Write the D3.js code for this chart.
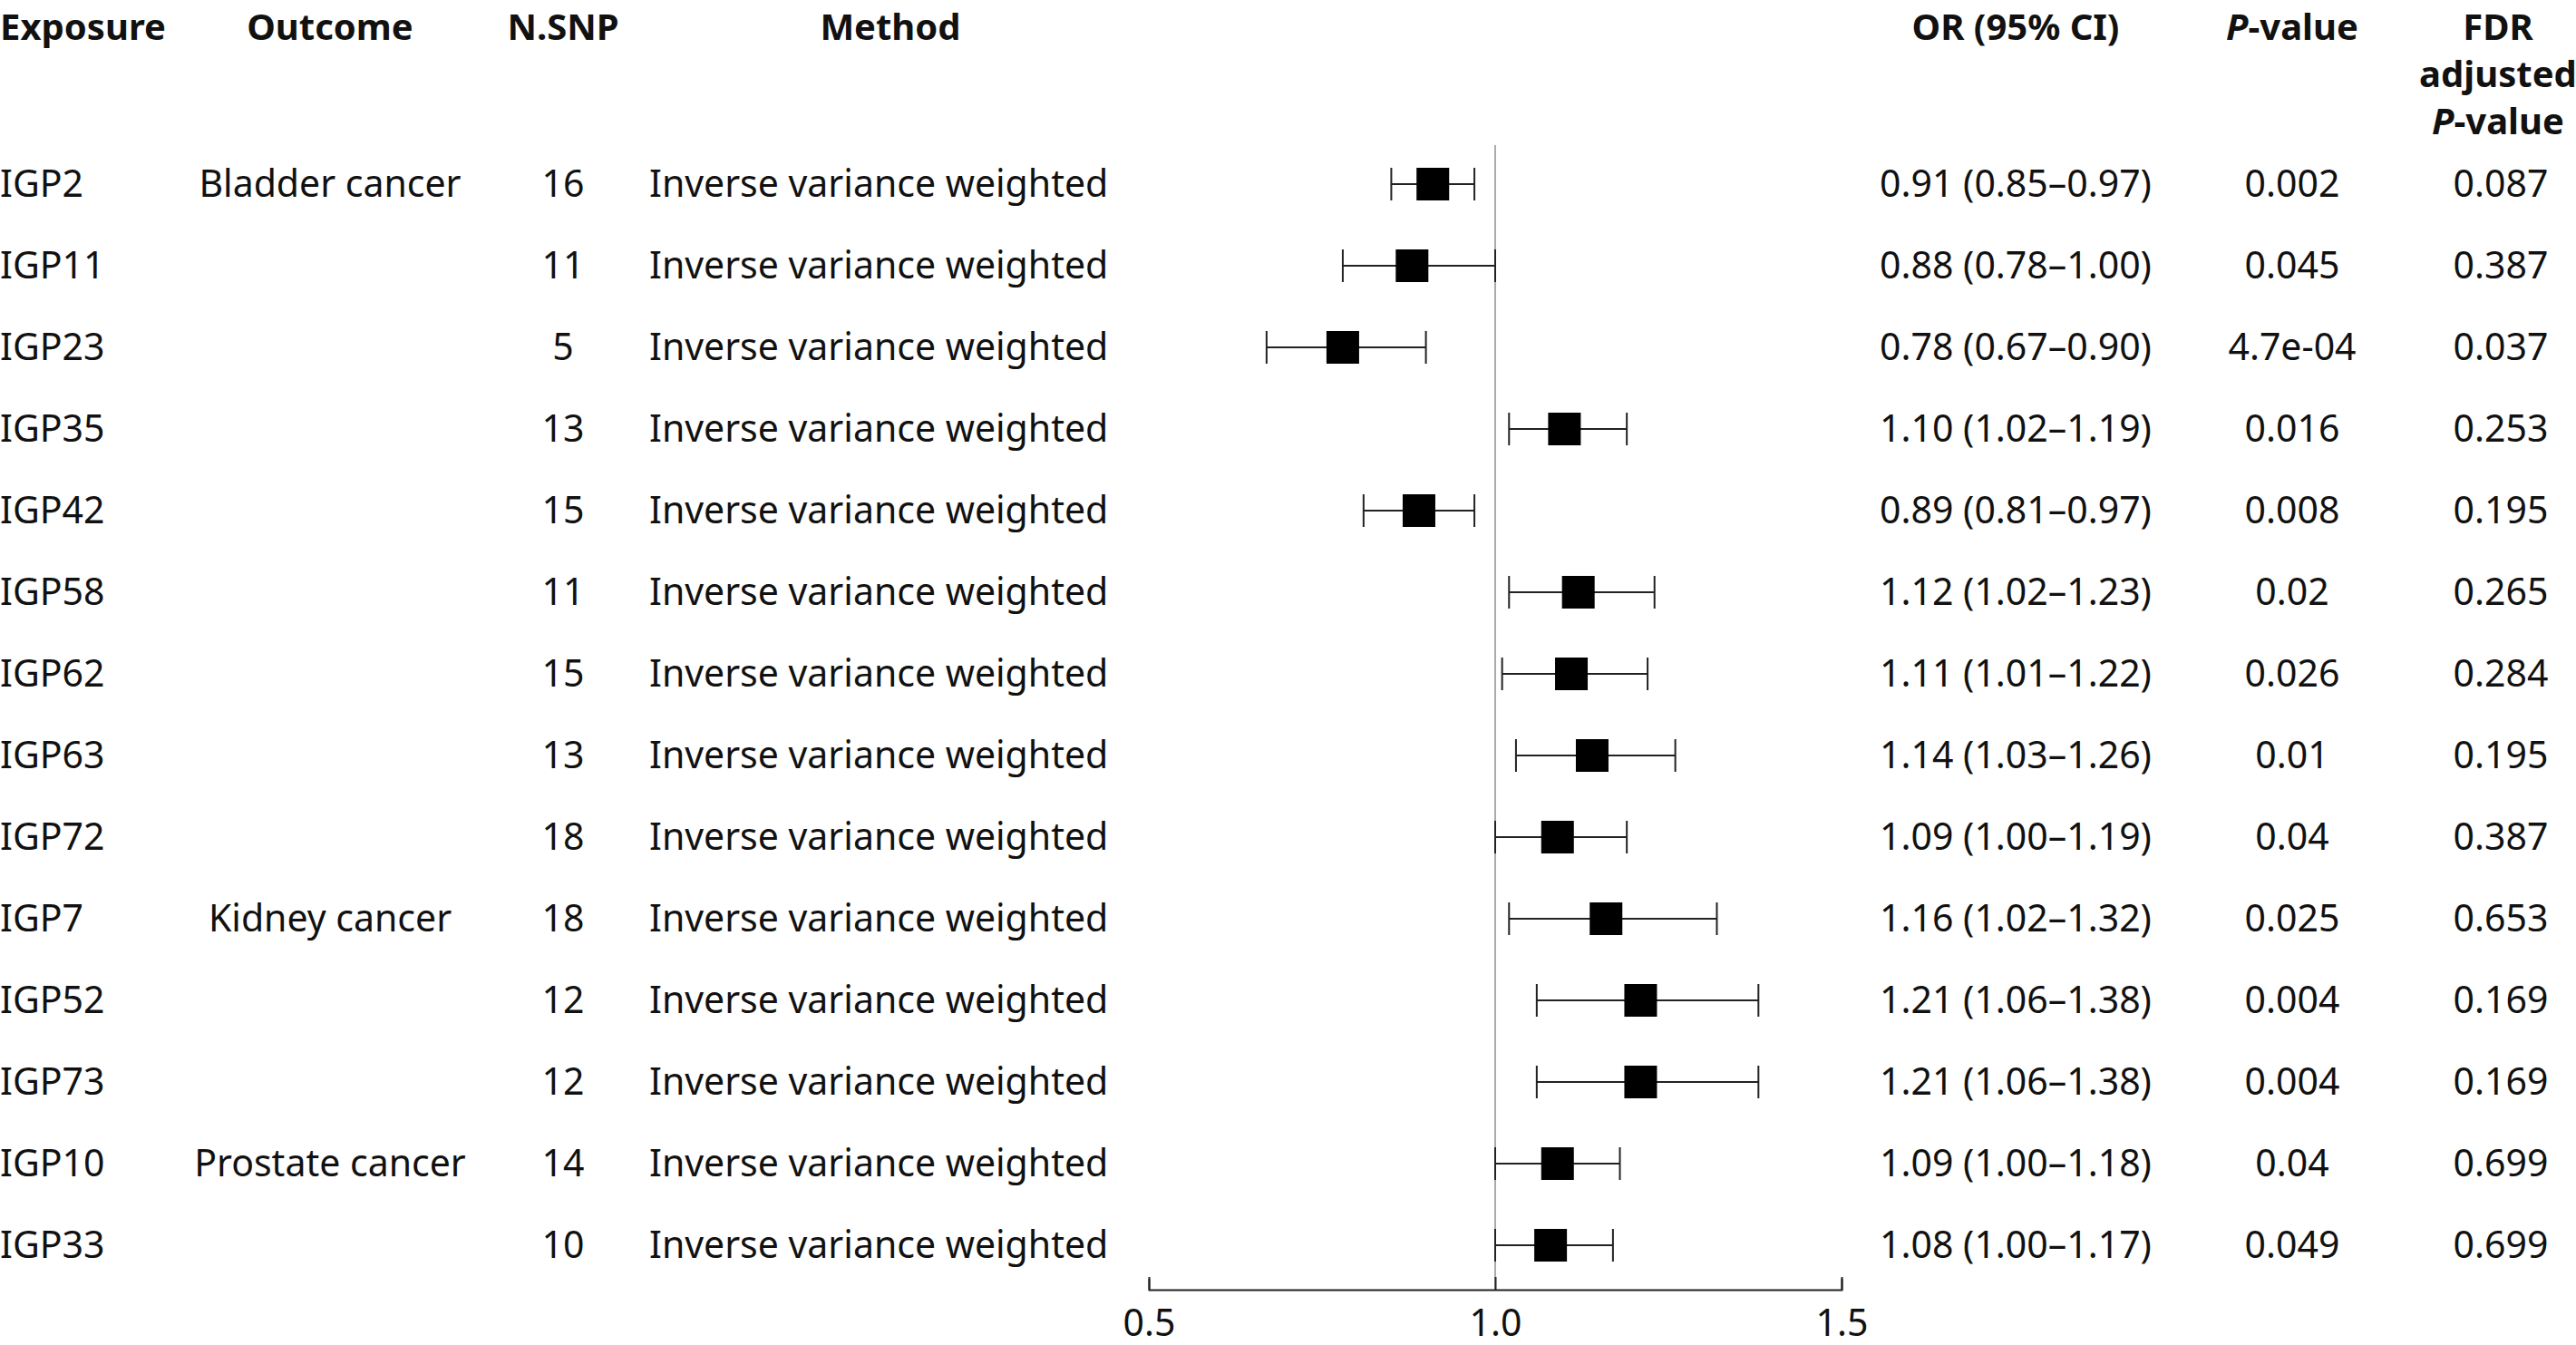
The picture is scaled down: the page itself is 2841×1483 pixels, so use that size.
<!DOCTYPE html>
<html>
<head>
<meta charset="utf-8">
<script src="https://cdn.jsdelivr.net/npm/d3@7"></script>
<style>
  body { margin: 0; background: #fff; }
  text { font-family: "Noto Sans", "Open Sans", sans-serif; fill: #111; }
</style>
</head>
<body>
<svg id="chart" width="2841" height="1483"></svg>
<script>
// data
var exposure = ["IGP2","IGP11","IGP23","IGP35","IGP42","IGP58","IGP62","IGP63","IGP72","IGP7","IGP52","IGP73","IGP10","IGP33"];
var outcome = ["Bladder cancer","","","","","","","","","Kidney cancer","","","Prostate cancer",""];
var nsnp = [16,11,5,13,15,11,15,13,18,18,12,12,14,10];
var method = "Inverse variance weighted";
var or = [0.91,0.88,0.78,1.10,0.89,1.12,1.11,1.14,1.09,1.16,1.21,1.21,1.09,1.08];
var lower = [0.85,0.78,0.67,1.02,0.81,1.02,1.01,1.03,1.00,1.02,1.06,1.06,1.00,1.00];
var upper = [0.97,1.00,0.90,1.19,0.97,1.23,1.22,1.26,1.19,1.32,1.38,1.38,1.18,1.17];
var pval = ["0.002","0.045","4.7e-04","0.016","0.008","0.02","0.026","0.01","0.04","0.025","0.004","0.004","0.04","0.049"];
var fdr = ["0.087","0.387","0.037","0.253","0.195","0.265","0.284","0.195","0.387","0.653","0.169","0.169","0.699","0.699"];
var xTicks = [0.5, 1.0, 1.5];

var svg = d3.select("#chart");
var fs = 41;

var x = d3.scaleLinear().domain([0.5, 1.5]).range([1267, 2031]);
var y = d3.scalePoint().domain(d3.range(exposure.length)).range([203, 1373]);

var col = { exp: 0, out: 364, snp: 621, meth: 716, or: 2223, p: 2528, fdr: 2758 };

// headers
var hdr = svg.append("g").attr("font-weight", "bold").attr("font-size", 40);
hdr.append("text").attr("x", col.exp).attr("y", 44).text("Exposure");
hdr.append("text").attr("x", col.out).attr("y", 44).attr("text-anchor", "middle").text("Outcome");
hdr.append("text").attr("x", col.snp).attr("y", 44).attr("text-anchor", "middle").text("N.SNP");
hdr.append("text").attr("x", 982).attr("y", 44).attr("text-anchor", "middle").text("Method");
hdr.append("text").attr("x", col.or).attr("y", 44).attr("text-anchor", "middle").text("OR (95% CI)");
var ph = hdr.append("text").attr("x", col.p).attr("y", 44).attr("text-anchor", "middle");
ph.append("tspan").attr("font-style", "italic").text("P");
ph.append("tspan").text("-value");
hdr.append("text").attr("x", 2755).attr("y", 44).attr("text-anchor", "middle").text("FDR");
hdr.append("text").attr("x", 2755).attr("y", 96).attr("text-anchor", "middle").text("adjusted");
var fh = hdr.append("text").attr("x", 2755).attr("y", 148).attr("text-anchor", "middle");
fh.append("tspan").attr("font-style", "italic").text("P");
fh.append("tspan").text("-value");

// reference line at 1
svg.append("line")
  .attr("x1", x(1)).attr("x2", x(1))
  .attr("y1", 160).attr("y2", 1422)
  .attr("stroke", "#aaa").attr("stroke-width", 2);

// axis
var axis = svg.append("g").attr("transform", "translate(0,1422)")
  .call(d3.axisBottom(x).tickValues(xTicks).tickFormat(d3.format(".1f")).tickSizeOuter(0).tickSize(-12));
axis.select(".domain").attr("stroke", "#222").attr("stroke-width", 2);
axis.selectAll(".tick line").attr("stroke", "#222").attr("stroke-width", 2).attr("y2", -14);
axis.selectAll(".tick text").attr("font-size", fs).attr("y", 22).attr("dy", "0.71em")
  .attr("font-family", "'Noto Sans', sans-serif").attr("fill", "#111");

// rows
var rows = svg.selectAll(".row").data(exposure).enter().append("g")
  .attr("class", "row")
  .attr("transform", function(d, i) { return "translate(0," + y(i) + ")"; })
  .attr("font-size", fs);

rows.append("text").attr("x", col.exp).attr("dy", "0.35em").text(function(d) { return d; });
rows.append("text").attr("x", col.out).attr("dy", "0.35em").attr("text-anchor", "middle")
  .text(function(d, i) { return outcome[i]; });
rows.append("text").attr("x", col.snp).attr("dy", "0.35em").attr("text-anchor", "middle")
  .text(function(d, i) { return nsnp[i]; });
rows.append("text").attr("x", col.meth).attr("dy", "0.35em").text(method);
rows.append("text").attr("x", col.or).attr("dy", "0.35em").attr("text-anchor", "middle")
  .text(function(d, i) { return or[i].toFixed(2) + " (" + lower[i].toFixed(2) + "\u2013" + upper[i].toFixed(2) + ")"; });
rows.append("text").attr("x", col.p).attr("dy", "0.35em").attr("text-anchor", "middle")
  .text(function(d, i) { return pval[i]; });
rows.append("text").attr("x", col.fdr).attr("dy", "0.35em").attr("text-anchor", "middle")
  .text(function(d, i) { return fdr[i]; });

// CI whiskers
rows.append("line")
  .attr("x1", function(d, i) { return x(lower[i]); })
  .attr("x2", function(d, i) { return x(upper[i]); })
  .attr("stroke", "#222").attr("stroke-width", 2);
rows.append("line")
  .attr("x1", function(d, i) { return x(lower[i]); })
  .attr("x2", function(d, i) { return x(lower[i]); })
  .attr("y1", -18).attr("y2", 18).attr("stroke", "#222").attr("stroke-width", 2);
rows.append("line")
  .attr("x1", function(d, i) { return x(upper[i]); })
  .attr("x2", function(d, i) { return x(upper[i]); })
  .attr("y1", -18).attr("y2", 18).attr("stroke", "#222").attr("stroke-width", 2);
rows.append("rect")
  .attr("x", function(d, i) { return x(or[i]) - 18; })
  .attr("y", -18).attr("width", 36).attr("height", 36)
  .attr("fill", "#000");
</script>
</body>
</html>
